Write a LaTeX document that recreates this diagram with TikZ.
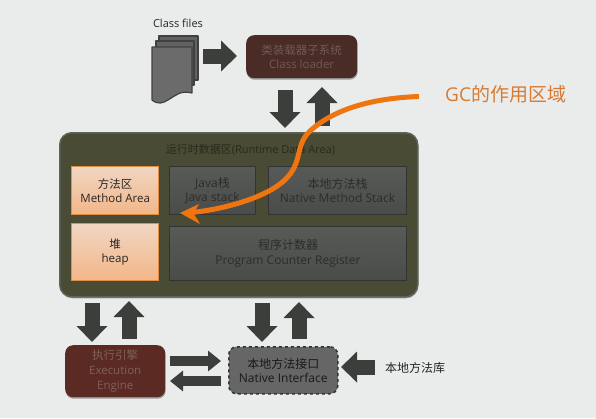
\documentclass[tikz,border=0pt]{standalone}
\usepackage{fontspec}
\setmainfont{Open Sans}
\newfontfamily\cjk{Noto Sans CJK SC}
\usetikzlibrary{arrows.meta,shadows,calc}
\definecolor{bgc}{HTML}{EAECEB}
\definecolor{arrowc}{HTML}{3C3E3B}
\definecolor{orangec}{HTML}{EF7510}
\definecolor{gctext}{HTML}{D97A33}
\definecolor{mainfill}{HTML}{4A4B35}
\definecolor{boxtop}{HTML}{585A58}
\definecolor{boxbot}{HTML}{4A4C4A}
\definecolor{dimtext}{HTML}{2C2D2B}
\definecolor{loadertext}{HTML}{6F5B55}
\definecolor{exectext}{HTML}{80605A}
\definecolor{titletext}{HTML}{29291C}
\definecolor{orangetop}{HTML}{F0D6C2}
\definecolor{orangebot}{HTML}{F3B688}
\definecolor{orangeedge}{HTML}{E08D45}
\definecolor{mainedge}{HTML}{5F6158}
\tikzset{
  x=1pt,y=-1pt,
  blockarrow/.style={draw=arrowc,line width=15pt,-{Triangle[length=16pt,width=30pt]}},
  thinarrow/.style={draw=arrowc,line width=10pt,-{Triangle[length=13pt,width=20pt]}},
  soft/.style={drop shadow={shadow xshift=0.5pt,shadow yshift=-1.5pt,opacity=.35,fill=black}},
  brownbox/.style={rounded corners=8pt,minimum width=#1,align=center,soft,font=\fontsize{11.5}{14.5}\selectfont},
  membox/.style={draw=#1,line width=1pt,align=center,inner sep=0pt},
  orangebox/.style={membox=orangeedge,line width=1.3pt,top color=orangetop,bottom color=orangebot,text=black!85,
     font=\fontsize{11.5}{14.5}\selectfont},
  graybox/.style={membox=black!80,top color=boxtop,bottom color=boxbot,text=dimtext,font=\fontsize{12}{14.5}\selectfont},
  plainlabel/.style={text=black!85,inner sep=0pt},
}
\begin{document}
\begin{tikzpicture}
\useasboundingbox (0,0) rectangle (596,418);
\fill[bgc] (0,0) rectangle (596,418);

% runtime data area
\node[rounded corners=12pt,draw=mainedge,line width=1.5pt,fill=mainfill,soft,minimum width=358pt,minimum height=164pt,inner sep=0pt,anchor=north west] (main) at (59,132) {};
\node[text=titletext,inner sep=0pt,font=\fontsize{11}{13}\selectfont] (maintitle) at (250.5,150) {{\cjk 运行时数据区}(Runtime Data Area)};

\node[orangebox,minimum width=87pt,minimum height=48pt,anchor=north west] (method) at (71,166) {{\cjk 方法区}\\Method Area};
\node[orangebox,minimum width=87pt,minimum height=57pt,anchor=north west] (heap) at (71,223) {{\cjk 堆}\\heap};
\node[graybox,minimum width=86pt,minimum height=48pt,anchor=north west] (java) at (169,166) {Java{\cjk 栈}\\Java stack};
\node[graybox,minimum width=138pt,minimum height=48pt,anchor=north west] (native) at (268,166) {{\cjk 本地方法栈}\\Native Method Stack};
\node[graybox,minimum width=237pt,minimum height=54pt,anchor=north west] (pc) at (169,226) {{\cjk 程序计数器}\\Program Counter Register};

% class loader
\node[brownbox=111pt,text=loadertext,minimum height=43pt,anchor=north west,fill={rgb,255:red,74;green,43;blue,37},inner sep=0pt] (loader) at (246,35) {{\cjk 类装载器子系统}\\Class loader};
% execution engine
\node[brownbox=100pt,text=exectext,minimum height=52pt,anchor=north west,fill={rgb,255:red,91;green,42;blue,35},inner sep=0pt,font=\fontsize{11.5}{15}\selectfont] (exec) at (65,345) {{\cjk 执行引擎}\\Execution\\Engine};
% native interface
\node[rounded corners=8pt,draw=black!80,dashed,line width=1.5pt,fill=black!60,minimum width=109pt,minimum height=47pt,anchor=north west,align=center,inner sep=0pt,text=black!90,font=\fontsize{12}{14.5}\selectfont] (nif) at (228,346) {{\cjk 本地方法接口}\\Native Interface};

% class files
\node[plainlabel,font=\fontsize{11}{13}\selectfont] (classfiles) at (178,23.5) {Class files};
\tikzset{sheet/.style={draw=black!75,line width=1.2pt,fill=#1,line join=round}}
\draw[sheet=black!62] (159,36) -- (198,36) -- (198,80) -- (159,80) -- cycle;
\draw[sheet=black!62] (156,41) -- (194,41) -- (194,85) -- (156,85) -- cycle;
\draw[sheet=black!58] (152,47) -- (192,47) -- (192,93) .. controls (180,90) and (175,96) .. (168,100) .. controls (163,103) and (158,105) .. (152,100) -- cycle;

% block arrows
\coordinate (a1s) at (203,56); \coordinate (a1e) at (237,56);
\coordinate (a2s) at (285,90); \coordinate (a2e) at (285,128);
\coordinate (a3s) at (322,126); \coordinate (a3e) at (322,87);
\coordinate (a4s) at (92,303); \coordinate (a4e) at (92,342);
\coordinate (a5s) at (129,339); \coordinate (a5e) at (129,301);
\coordinate (a6s) at (262,303); \coordinate (a6e) at (262,342);
\coordinate (a7s) at (299,339); \coordinate (a7e) at (299,302);
\coordinate (a8s) at (170,361); \coordinate (a8e) at (221,361);
\coordinate (a9s) at (221,381); \coordinate (a9e) at (170,381);
\coordinate (a10s) at (375,367); \coordinate (a10e) at (341,367);
\draw[blockarrow] (a1s) -- (a1e);
\draw[blockarrow] (a2s) -- (a2e);
\draw[blockarrow] (a3s) -- (a3e);
\draw[blockarrow] (a4s) -- (a4e);
\draw[blockarrow] (a5s) -- (a5e);
\draw[blockarrow] (a6s) -- (a6e);
\draw[blockarrow] (a7s) -- (a7e);
\draw[thinarrow] (a8s) -- (a8e);
\draw[thinarrow] (a9s) -- (a9e);
\draw[blockarrow] (a10s) -- (a10e);

\node[plainlabel,font=\fontsize{12}{14}\cjk,anchor=west] (nlib) at (385,368) {本地方法库};

% GC
\node[text=gctext,inner sep=0pt,font=\fontsize{19}{22}\selectfont,anchor=west] (gc) at (445,94) {GC{\cjk 的作用区域}};
\coordinate (gcstart) at (419,96.5);
\coordinate (gctip) at (180,213);
\draw[orangec,line width=5pt,line cap=butt] (gcstart) .. controls (375,98) and (335,108) .. (310,131)
  .. controls (293,147) and (305,165) .. (280,184)
  .. controls (262,198) and (225,209) .. (192,212.5);
\fill[orangec] (gctip) -- (199,204) .. controls (196,209) and (195,212) .. (193,213) .. controls (195,216) and (198,220) .. (200,224) -- cycle;
\end{tikzpicture}
\end{document}
